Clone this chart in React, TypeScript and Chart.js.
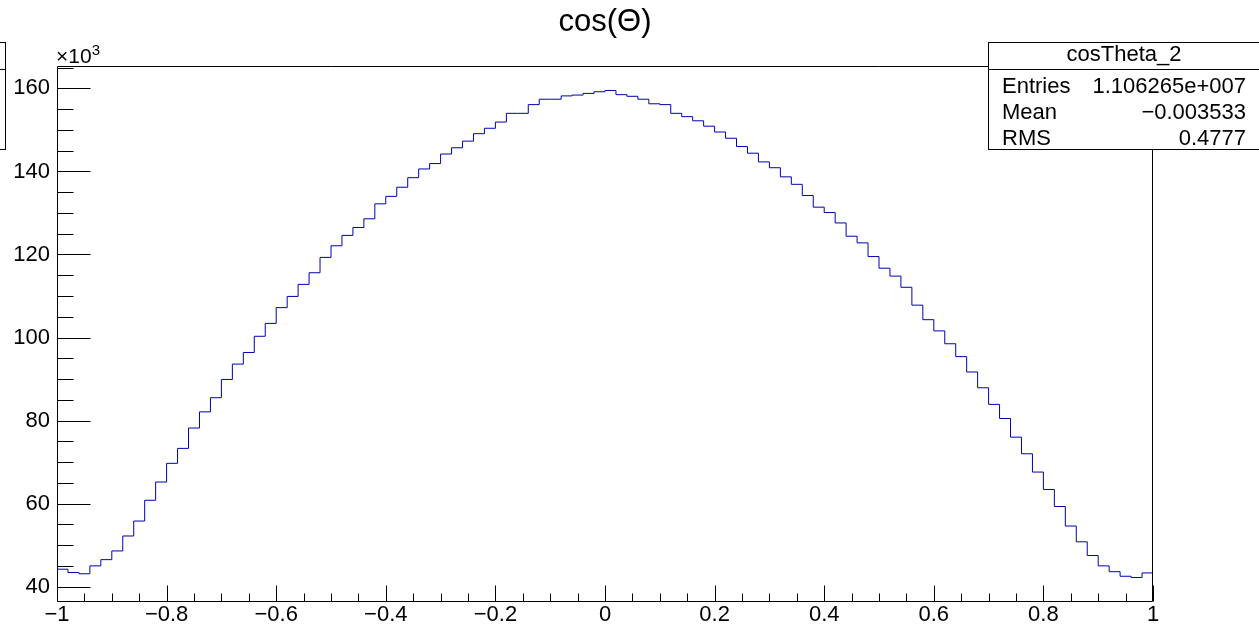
import React, { useEffect, useRef } from 'react';
import { Chart, registerables } from 'chart.js';

Chart.register(...registerables);

// Histogram: cos(Θ), 100 bins from -1 to 1, contents in units of 10^3 entries
const X_MIN = -1;
const X_MAX = 1;
const binCountsK = [
  44.2, 43.4, 43.1, 45.0, 46.5, 48.6, 52.2, 55.8, 60.8, 65.2,
  69.7, 73.3, 78.2, 82.1, 85.5, 89.9, 93.6, 96.4, 100.3, 103.4,
  107.2, 109.9, 112.8, 115.6, 119.3, 122.1, 124.6, 126.5, 128.6, 132.2,
  134.0, 136.2, 138.5, 140.6, 141.9, 144.2, 145.7, 147.3, 149.1, 150.4,
  151.9, 154.0, 154.0, 156.1, 157.4, 157.4, 158.2, 158.4, 158.8, 159.2,
  159.5, 158.5, 158.1, 157.4, 156.3, 156.1, 154.0, 153.2, 152.2, 150.9,
  149.5, 148.0, 146.0, 144.4, 142.3, 140.9, 138.7, 136.9, 134.2, 131.4,
  130.1, 127.6, 124.4, 122.8, 119.5, 116.7, 114.8, 112.1, 107.8, 104.3,
  101.6, 98.5, 95.4, 91.7, 87.9, 83.9, 80.5, 76.0, 72.0, 67.6,
  63.4, 59.3, 54.6, 50.8, 47.5, 45.0, 43.6, 42.5, 42.2, 43.3,
];

const xTickValues = [-1, -0.8, -0.6, -0.4, -0.2, 0, 0.2, 0.4, 0.6, 0.8, 1];
const xTickLabels = ['\u22121', '\u22120.8', '\u22120.6', '\u22120.4', '\u22120.2', '0', '0.2', '0.4', '0.6', '0.8', '1'];
const xMinorStep = 0.05;

const yTickValues = [40, 60, 80, 100, 120, 140, 160];
const yTickLabels = ['40', '60', '80', '100', '120', '140', '160'];
const yMinorStep = 5;
const Y_MIN = 36.3;
const Y_MAX = 165.4;

const titleText = 'cos(\u0398)';
const statsTitle = 'cosTheta_2';
const statsNames = ['Entries', 'Mean', 'RMS'];
const statsValues = ['1.106265e+007', '\u22120.003533', '0.4777'];

const FONT = "'Liberation Sans', Arial, Helvetica, sans-serif";
const LINE_COLOR = '#0000b0';

const frameTicksPlugin = {
  id: 'frameTicks',
  afterDatasetsDraw(chart: any) {
    const { ctx, chartArea: a, scales } = chart;
    const xs = scales.x;
    const ys = scales.y;
    const L = Math.round(a.left) + 0.5;
    const R = Math.round(a.right) - 0.5;
    const T = Math.round(a.top) + 0.5;
    const B = Math.round(a.bottom) - 0.5;
    ctx.save();
    ctx.strokeStyle = '#000';
    ctx.lineWidth = 1;
    ctx.beginPath();
    ctx.rect(L, T, R - L, B - T);
    ctx.stroke();

    const plotW = a.right - a.left;
    const plotH = a.bottom - a.top;
    const yMajorLen = Math.round(plotW * 0.03);
    const yMinorLen = Math.round(plotW * 0.015);
    const xMajorLen = Math.round(plotH * 0.03);
    const xMinorLen = Math.round(plotH * 0.015);

    ctx.beginPath();
    const yStart = Math.ceil(Y_MIN / yMinorStep) * yMinorStep;
    for (let v = yStart; v <= Y_MAX + 1e-9; v += yMinorStep) {
      const py = Math.round(ys.getPixelForValue(v)) + 0.5;
      const isMajor = yTickValues.some((t) => Math.abs(t - v) < 1e-6);
      const len = isMajor ? yMajorLen : yMinorLen;
      ctx.moveTo(L, py);
      ctx.lineTo(L + len, py);
    }
    const nx = Math.round((X_MAX - X_MIN) / xMinorStep);
    for (let i = 0; i <= nx; i++) {
      const v = X_MIN + i * xMinorStep;
      const px = Math.round(xs.getPixelForValue(v)) + 0.5;
      const isMajor = xTickValues.some((t) => Math.abs(t - v) < 1e-6);
      const len = isMajor ? xMajorLen : xMinorLen;
      ctx.moveTo(px, B);
      ctx.lineTo(px, B - len);
    }
    ctx.stroke();
    ctx.restore();
  },
};

export default function App() {
  const canvasRef = useRef<HTMLCanvasElement | null>(null);

  useEffect(() => {
    document.body.style.margin = '0';
    const canvas = canvasRef.current;
    if (!canvas) return;
    const binWidth = (X_MAX - X_MIN) / binCountsK.length;
    const points = binCountsK.map((v, i) => ({ x: X_MIN + i * binWidth, y: v }));
    points.push({ x: X_MAX, y: binCountsK[binCountsK.length - 1] });

    const tickFont = { family: FONT, size: 22, lineHeight: 1 };

    const chart = new Chart(canvas, {
      type: 'line',
      data: {
        datasets: [
          {
            label: statsTitle,
            data: points,
            stepped: true,
            borderColor: LINE_COLOR,
            borderWidth: 1,
            pointRadius: 0,
            fill: false,
          },
        ],
      },
      options: {
        animation: false,
        responsive: false,
        devicePixelRatio: 1,
        layout: { padding: { top: 66, right: 106, left: 0, bottom: 0 } },
        plugins: {
          legend: { display: false },
          title: { display: false },
          tooltip: { enabled: false },
        },
        scales: {
          x: {
            type: 'linear',
            min: X_MIN,
            max: X_MAX,
            grid: { display: false, drawTicks: false },
            border: { display: false },
            afterBuildTicks: (scale: any) => {
              scale.ticks = xTickValues.map((v) => ({ value: v }));
            },
            afterFit: (scale: any) => {
              scale.height = 26;
            },
            ticks: {
              autoSkip: false,
              maxRotation: 0,
              minRotation: 0,
              padding: 2,
              color: '#000',
              font: tickFont,
              callback: (_v: any, i: number) => xTickLabels[i],
            },
          },
          y: {
            type: 'linear',
            min: Y_MIN,
            max: Y_MAX,
            grid: { display: false, drawTicks: false },
            border: { display: false },
            afterBuildTicks: (scale: any) => {
              scale.ticks = yTickValues.map((v) => ({ value: v }));
            },
            afterFit: (scale: any) => {
              scale.width = 57;
            },
            ticks: {
              autoSkip: false,
              padding: 7,
              color: '#000',
              font: tickFont,
              callback: (_v: any, i: number) => yTickLabels[i],
            },
          },
        },
      },
      plugins: [frameTicksPlugin],
    } as any);

    return () => {
      chart.destroy();
    };
  }, []);

  const textBase: React.CSSProperties = {
    position: 'absolute',
    fontFamily: FONT,
    color: '#000',
    whiteSpace: 'nowrap',
  };

  const rowTops = [74.5, 100.5, 126.5];

  return (
    <div
      style={{
        position: 'fixed',
        left: 0,
        top: 0,
        width: 1259,
        height: 628,
        overflow: 'hidden',
        background: '#fff',
      }}
    >
      <canvas ref={canvasRef} width={1259} height={628} style={{ position: 'absolute', left: 0, top: 0 }} />

      {/* title */}
      <div
        style={{
          ...textBase,
          left: 405,
          width: 400,
          top: 5,
          fontSize: 31,
          lineHeight: '31px',
          textAlign: 'center',
        }}
      >
        {titleText}
      </div>

      {/* exponent label */}
      <div style={{ ...textBase, left: 56, top: 45, fontSize: 21, lineHeight: '21px' }}>
        {'\u00d710'}
        <span style={{ fontSize: 15, position: 'relative', top: -8 }}>3</span>
      </div>

      {/* partially visible box at left edge */}
      <div
        style={{
          position: 'absolute',
          left: -20,
          top: 42,
          width: 24,
          height: 106,
          border: '1px solid #000',
          background: '#fff',
        }}
      >
        <div style={{ position: 'absolute', left: 0, right: 0, top: 26, borderTop: '1px solid #000' }} />
      </div>

      {/* stats box */}
      <div
        style={{
          position: 'absolute',
          left: 988,
          top: 42,
          width: 290,
          height: 106,
          border: '1px solid #000',
          background: '#fff',
        }}
      >
        <div style={{ position: 'absolute', left: 0, right: 0, top: 26, borderTop: '1px solid #000' }} />
      </div>
      <div
        style={{
          ...textBase,
          left: 989,
          width: 270,
          top: 43,
          fontSize: 22,
          lineHeight: '22px',
          textAlign: 'center',
        }}
      >
        {statsTitle}
      </div>
      {statsNames.map((name, i) => (
        <div key={name} style={{ ...textBase, left: 1002, top: rowTops[i], fontSize: 22, lineHeight: '22px' }}>
          {name}
        </div>
      ))}
      {statsValues.map((val, i) => (
        <div
          key={'v' + i}
          style={{
            ...textBase,
            right: 1259 - 1246,
            top: rowTops[i],
            fontSize: 22,
            lineHeight: '22px',
            textAlign: 'right',
          }}
        >
          {val}
        </div>
      ))}
    </div>
  );
}
